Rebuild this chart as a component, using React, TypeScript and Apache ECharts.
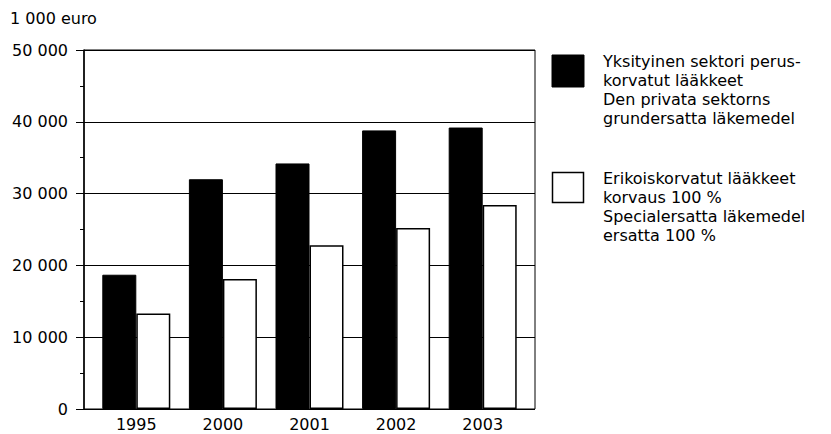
import React, { useEffect, useRef } from "react";
import * as echarts from "echarts";

const categories = ["1995", "2000", "2001", "2002", "2003"];
const privateBasic = [18700, 32000, 34200, 38800, 39200];
const special100 = [13300, 18100, 22800, 25200, 28400];
const unitLabel = "1 000 euro";
const legendPrivate = "Yksityinen sektori perus-\nkorvatut lääkkeet\nDen privata sektorns\ngrundersatta läkemedel";
const legendSpecial = "Erikoiskorvatut lääkkeet\nkorvaus 100 %\nSpecialersatta läkemedel\nersatta 100 %";

const FONT = "'DejaVu Sans', sans-serif";

export default function App() {
  const ref = useRef<HTMLDivElement>(null);
  useEffect(() => {
    if (!ref.current) return;
    const chart = echarts.init(ref.current, undefined, { renderer: "svg" });
    const fmt = (v: number) => {
      if (v === 0) return "0";
      const s = String(v);
      return s.slice(0, s.length - 3) + " " + s.slice(-3);
    };
    chart.setOption({
      animation: false,
      backgroundColor: "#fff",
      textStyle: { fontFamily: FONT, color: "#000" },
      grid: [
        { left: 84, top: 50, width: 451, height: 359, show: true, borderColor: "#000", borderWidth: 1, backgroundColor: "transparent" },
        { left: 93, top: 50, width: 433, height: 359 },
      ],
      xAxis: [
        { type: "value", gridIndex: 0, min: 0, max: 1, show: false },
        {
          type: "category",
          gridIndex: 1,
          data: categories,
          axisLine: { show: false },
          axisTick: { show: false },
          axisLabel: { color: "#000", fontSize: 16, fontFamily: FONT, margin: 7 },
        },
      ],
      yAxis: [
        {
          type: "value",
          gridIndex: 0,
          min: 0,
          max: 50000,
          interval: 10000,
          axisLine: { show: true, lineStyle: { color: "#000", width: 1.5 } },
          axisTick: { show: true, length: 8, lineStyle: { color: "#000", width: 1 } },
          minorTick: { show: true, splitNumber: 2, length: 4, lineStyle: { color: "#000", width: 1 } },
          splitLine: { show: true, lineStyle: { color: "#000", width: 1 } },
          axisLabel: { color: "#000", fontSize: 16, fontFamily: FONT, margin: 16, formatter: fmt },
        },
        { type: "value", gridIndex: 1, min: 0, max: 50000, interval: 10000, show: false, splitLine: { show: false } },
      ],
      series: [
        {
          type: "bar",
          xAxisIndex: 1,
          yAxisIndex: 1,
          data: privateBasic,
          barWidth: 34,
          barGap: "0%",
          itemStyle: { color: "#000", borderColor: "#000", borderWidth: 1 },
        },
        {
          type: "bar",
          xAxisIndex: 1,
          yAxisIndex: 1,
          data: special100,
          barWidth: 34,
          barGap: "0%",
          itemStyle: { color: "#fff", borderColor: "#000", borderWidth: 1.5 },
        },
      ],
      graphic: [
        { type: "text", left: 10, top: 10, style: { text: unitLabel, font: `16px ${FONT}`, fill: "#000" } },
        { type: "rect", shape: { x: 552, y: 55, width: 32, height: 32 }, style: { fill: "#000", stroke: "#000", lineWidth: 1 } },
        { type: "rect", shape: { x: 552.5, y: 172.5, width: 31, height: 30 }, style: { fill: "#fff", stroke: "#000", lineWidth: 1.5 } },
        { type: "text", x: 603, y: 52, style: { text: legendPrivate, font: `16px ${FONT}`, lineHeight: 19, fill: "#000", verticalAlign: "top" } },
        { type: "text", x: 603, y: 169, style: { text: legendSpecial, font: `16px ${FONT}`, lineHeight: 19, fill: "#000", verticalAlign: "top" } },
      ],
    });
    return () => chart.dispose();
  }, []);
  return <div ref={ref} style={{ position: "fixed", left: 0, top: 0, width: 831, height: 434 }} />;
}
